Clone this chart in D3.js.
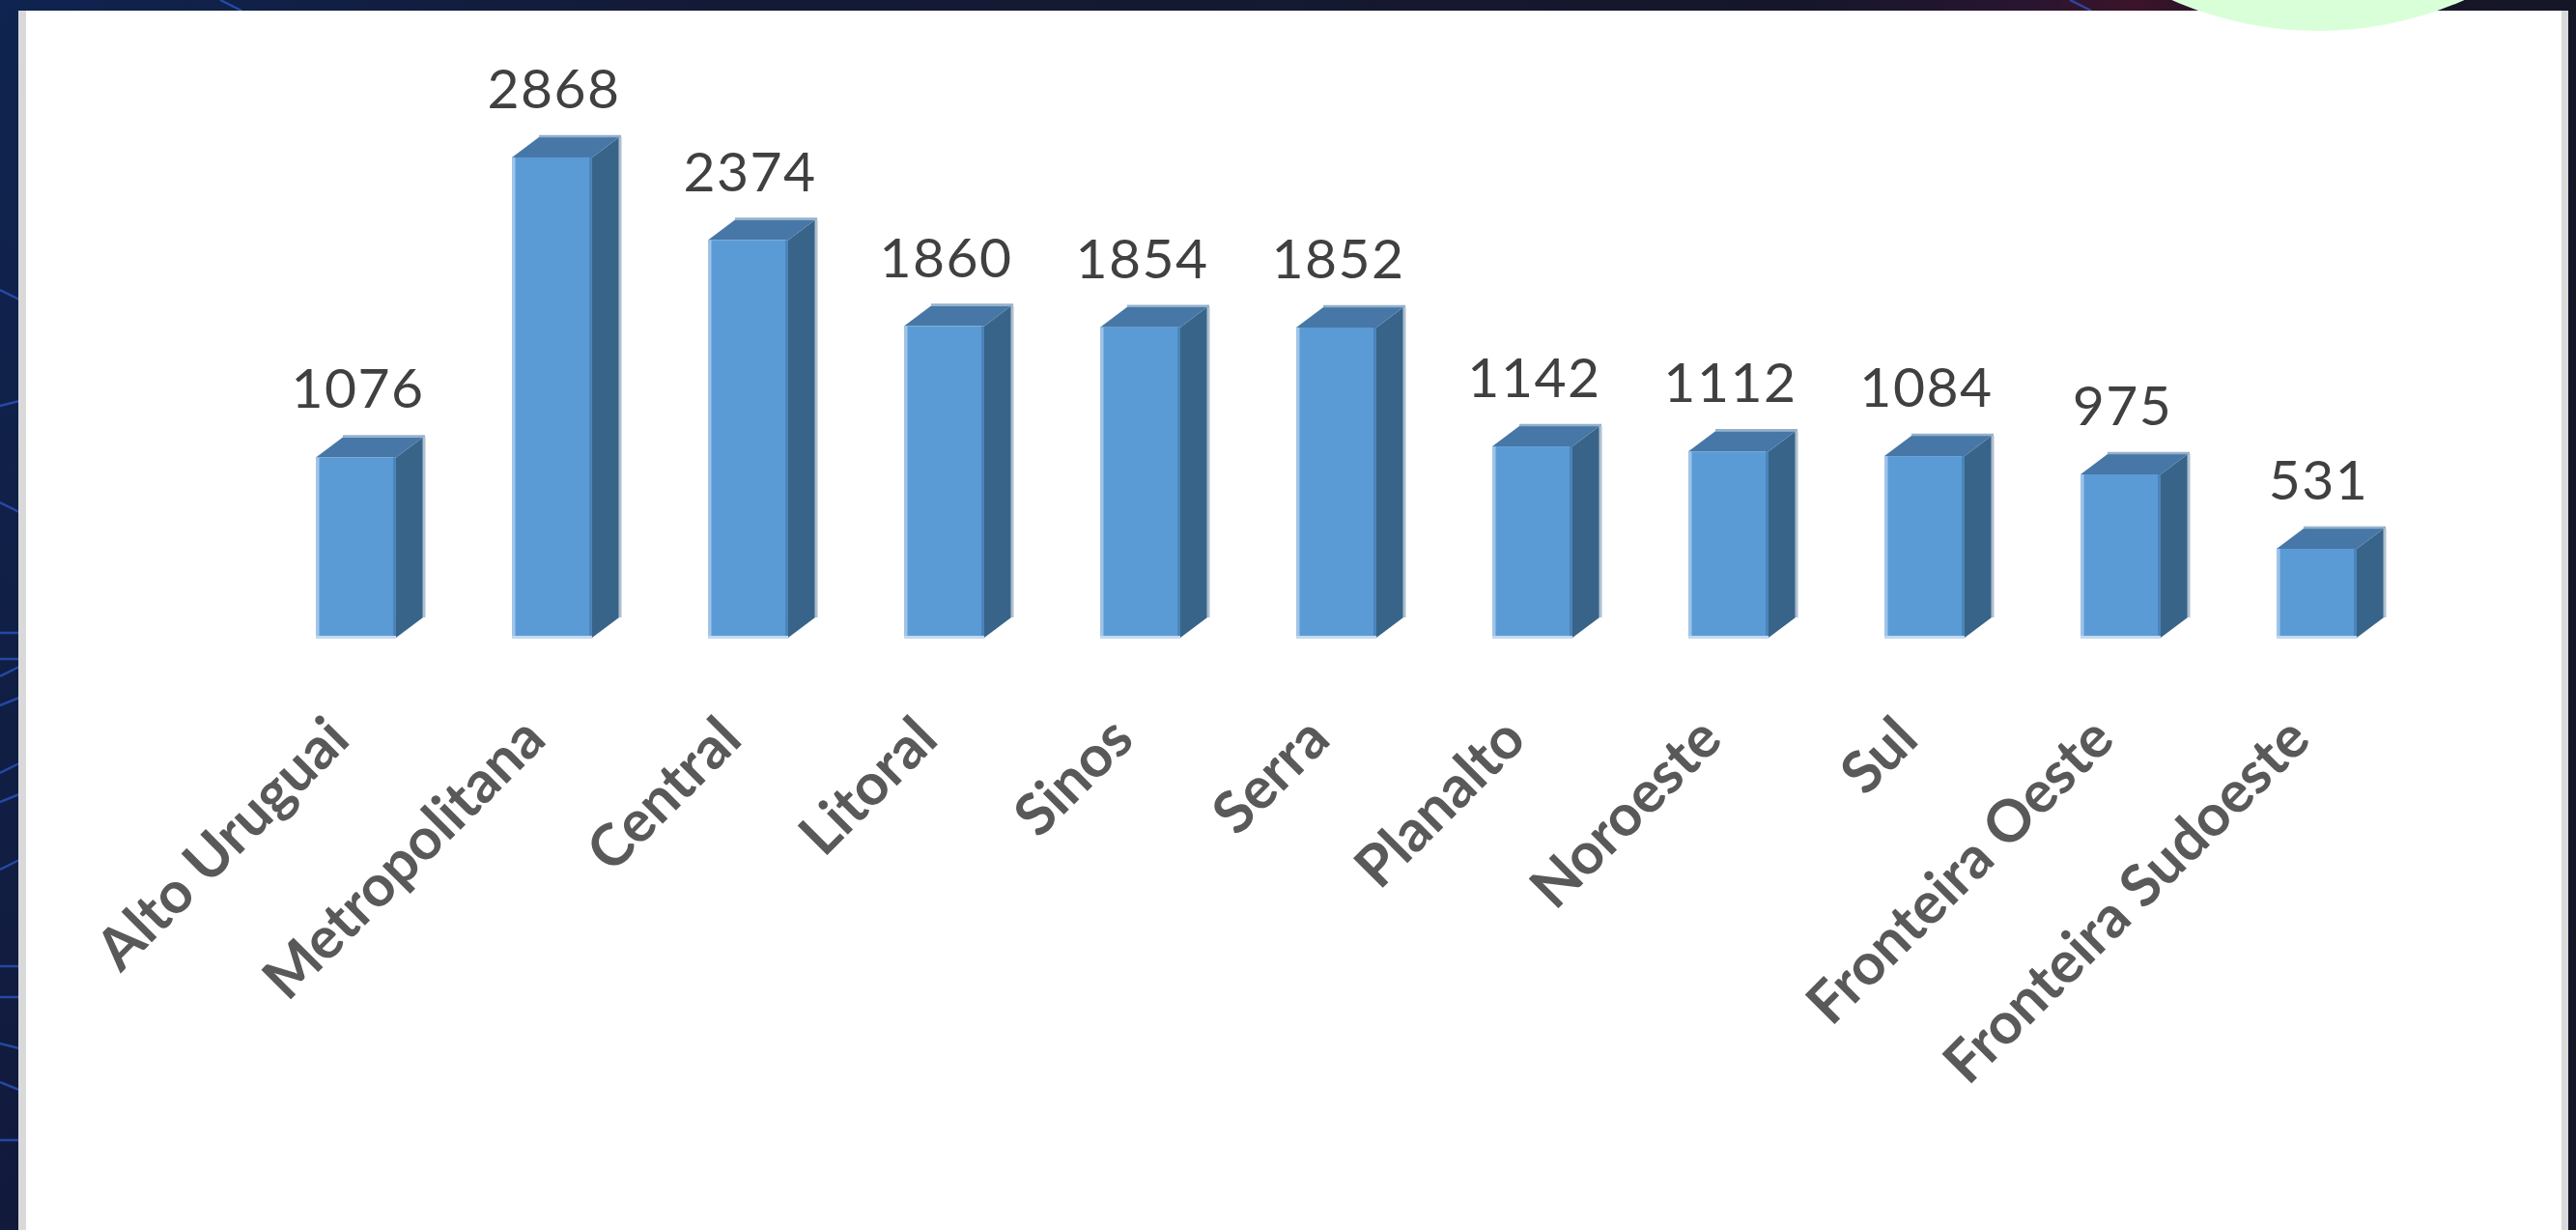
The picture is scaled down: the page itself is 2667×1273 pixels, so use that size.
<!DOCTYPE html>
<html>
<head>
<meta charset="utf-8">
<script src="https://cdn.jsdelivr.net/npm/d3@7"></script>
<style>
  html, body { margin: 0; padding: 0; background: #141628; overflow: hidden; }
  svg { display: block; }
</style>
</head>
<body>
<svg id="chart" width="2667" height="1273"></svg>
<script>
// ---- data ----
const categories = ["Alto Uruguai", "Metropolitana", "Central", "Litoral", "Sinos", "Serra",
                    "Planalto", "Noroeste", "Sul", "Fronteira Oeste", "Fronteira Sudoeste"];
const values = [1076, 2868, 2374, 1860, 1854, 1852, 1142, 1112, 1084, 975, 531];
const valueLabels = ["1076", "2868", "2374", "1860", "1854", "1852", "1142", "1112", "1084", "975", "531"];

const W = 2667, H = 1273;
const svg = d3.select("#chart");

// ---- background ----
const defs = svg.append("defs");
const bg = defs.append("linearGradient").attr("id", "bg").attr("x1", "0").attr("x2", "1").attr("y1", "0").attr("y2", "0");
[["0", "#0f2350"], ["0.25", "#131b38"], ["0.7", "#15162a"], ["0.79", "#2a1530"], ["0.83", "#3b1328"],
 ["0.87", "#1c1529"], ["1", "#141628"]].forEach(([o, c]) => bg.append("stop").attr("offset", o).attr("stop-color", c));
svg.append("rect").attr("width", W).attr("height", H).attr("fill", "url(#bg)");
const vg = defs.append("linearGradient").attr("id", "vg").attr("x1", "0").attr("x2", "0").attr("y1", "0").attr("y2", "1");
[["0", "#0f2450"], ["1", "#121a3c"]].forEach(([o, c]) => vg.append("stop").attr("offset", o).attr("stop-color", c));
svg.append("rect").attr("width", 20).attr("height", H).attr("fill", "url(#vg)");

// decorative background lines
const bgLines = [
  [[0, 655], [20, 655]], [[0, 682], [20, 682]], [[0, 700], [20, 690]], [[0, 730], [20, 722]],
  [[0, 800], [20, 790]], [[0, 830], [20, 822]], [[0, 900], [20, 890]], [[0, 1000], [20, 1000]],
  [[0, 1032], [20, 1032]], [[0, 1080], [20, 1085]], [[0, 1120], [20, 1128]], [[0, 1180], [20, 1180]],
  [[0, 300], [20, 310]], [[0, 420], [20, 415]], [[0, 520], [20, 530]],
  [[228, 0], [250, 11]], [[2143, 0], [2165, 11]]
];
svg.append("g").selectAll("path").data(bgLines).join("path")
  .attr("d", d => d3.line()(d)).attr("stroke", "#2b58c4").attr("stroke-width", 2.5)
  .attr("stroke-opacity", 0.75).attr("fill", "none");

// ---- panel ----
svg.append("rect").attr("x", 19).attr("y", 11).attr("width", 2659 - 19).attr("height", H - 11).attr("fill", "#d9d9d9");
svg.append("rect").attr("x", 27).attr("y", 11).attr("width", 2652 - 27).attr("height", H - 11).attr("fill", "#ffffff");

// green circle at the top
svg.append("circle").attr("cx", 2400).attr("cy", -343).attr("r", 375).attr("fill", "#d9ffd9");

// ---- scales ----
const x = d3.scaleBand().domain(categories).range([267, 2500]).paddingInner(0.5911).paddingOuter(0.2956);
const y = d3.scaleLinear().domain([0, 3000]).range([660, 140]);
const dx = 28, dy = 21;
const bw = x.bandwidth();
const base = y(0);

const rows = categories.map((c, i) => ({ c, v: values[i], label: valueLabels[i] }));

const g = svg.append("g");
const bar = g.selectAll("g.bar").data(rows).join("g").attr("class", "bar");

// side face
bar.append("path")
  .attr("d", d => {
    const x0 = x(d.c) + bw, yt = y(d.v);
    return `M${x0},${yt}L${x0 + dx},${yt - dy}L${x0 + dx},${base - dy}L${x0},${base}Z`;
  })
  .attr("fill", "#386489");
// side right highlight
bar.append("line")
  .attr("x1", d => x(d.c) + bw + dx + 1).attr("x2", d => x(d.c) + bw + dx + 1)
  .attr("y1", d => y(d.v) - dy).attr("y2", base - dy)
  .attr("stroke", "#aebfce").attr("stroke-width", 3);
// top face
bar.append("path")
  .attr("d", d => {
    const x0 = x(d.c), yt = y(d.v);
    return `M${x0},${yt}L${x0 + dx},${yt - dy}L${x0 + bw + dx},${yt - dy}L${x0 + bw},${yt}Z`;
  })
  .attr("fill", "#4677a6");
// top back highlight
bar.append("line")
  .attr("x1", d => x(d.c) + dx).attr("x2", d => x(d.c) + bw + dx + 2)
  .attr("y1", d => y(d.v) - dy - 1).attr("y2", d => y(d.v) - dy - 1)
  .attr("stroke", "#93b0cb").attr("stroke-width", 2.5);
// front face
bar.append("rect")
  .attr("x", d => x(d.c)).attr("y", d => y(d.v))
  .attr("width", bw).attr("height", d => base - y(d.v))
  .attr("fill", "#5b9bd5");
// front left light strip
bar.append("rect")
  .attr("x", d => x(d.c)).attr("y", d => y(d.v))
  .attr("width", 3.5).attr("height", d => base - y(d.v))
  .attr("fill", "#9fc4e8");
// front right darker edge
bar.append("rect")
  .attr("x", d => x(d.c) + bw - 3).attr("y", d => y(d.v))
  .attr("width", 3).attr("height", d => base - y(d.v))
  .attr("fill", "#4c84ba");
// front bottom light strip
bar.append("rect")
  .attr("x", d => x(d.c)).attr("y", base - 2)
  .attr("width", bw).attr("height", 3)
  .attr("fill", "#c3daf0");

// value labels
g.selectAll("text.val").data(rows).join("text").attr("class", "val")
  .attr("x", d => x(d.c) + bw / 2 + 2)
  .attr("y", d => y(d.v) - 51)
  .attr("text-anchor", "middle")
  .attr("font-family", "Lato, 'Open Sans', sans-serif")
  .attr("font-size", 57)
  .attr("letter-spacing", 1.5)
  .attr("fill", "#404040")
  .text(d => d.label);

// category labels
g.selectAll("text.cat").data(rows).join("text").attr("class", "cat")
  .attr("transform", d => `translate(${x(d.c) + bw / 2 - 4},${768}) rotate(-45)`)
  .attr("text-anchor", "end")
  .attr("font-family", "Lato, 'Open Sans', sans-serif")
  .attr("font-weight", 700)
  .attr("font-size", 60)
  .attr("fill", "#595959")
  .text(d => d.c);
</script>
</body>
</html>
